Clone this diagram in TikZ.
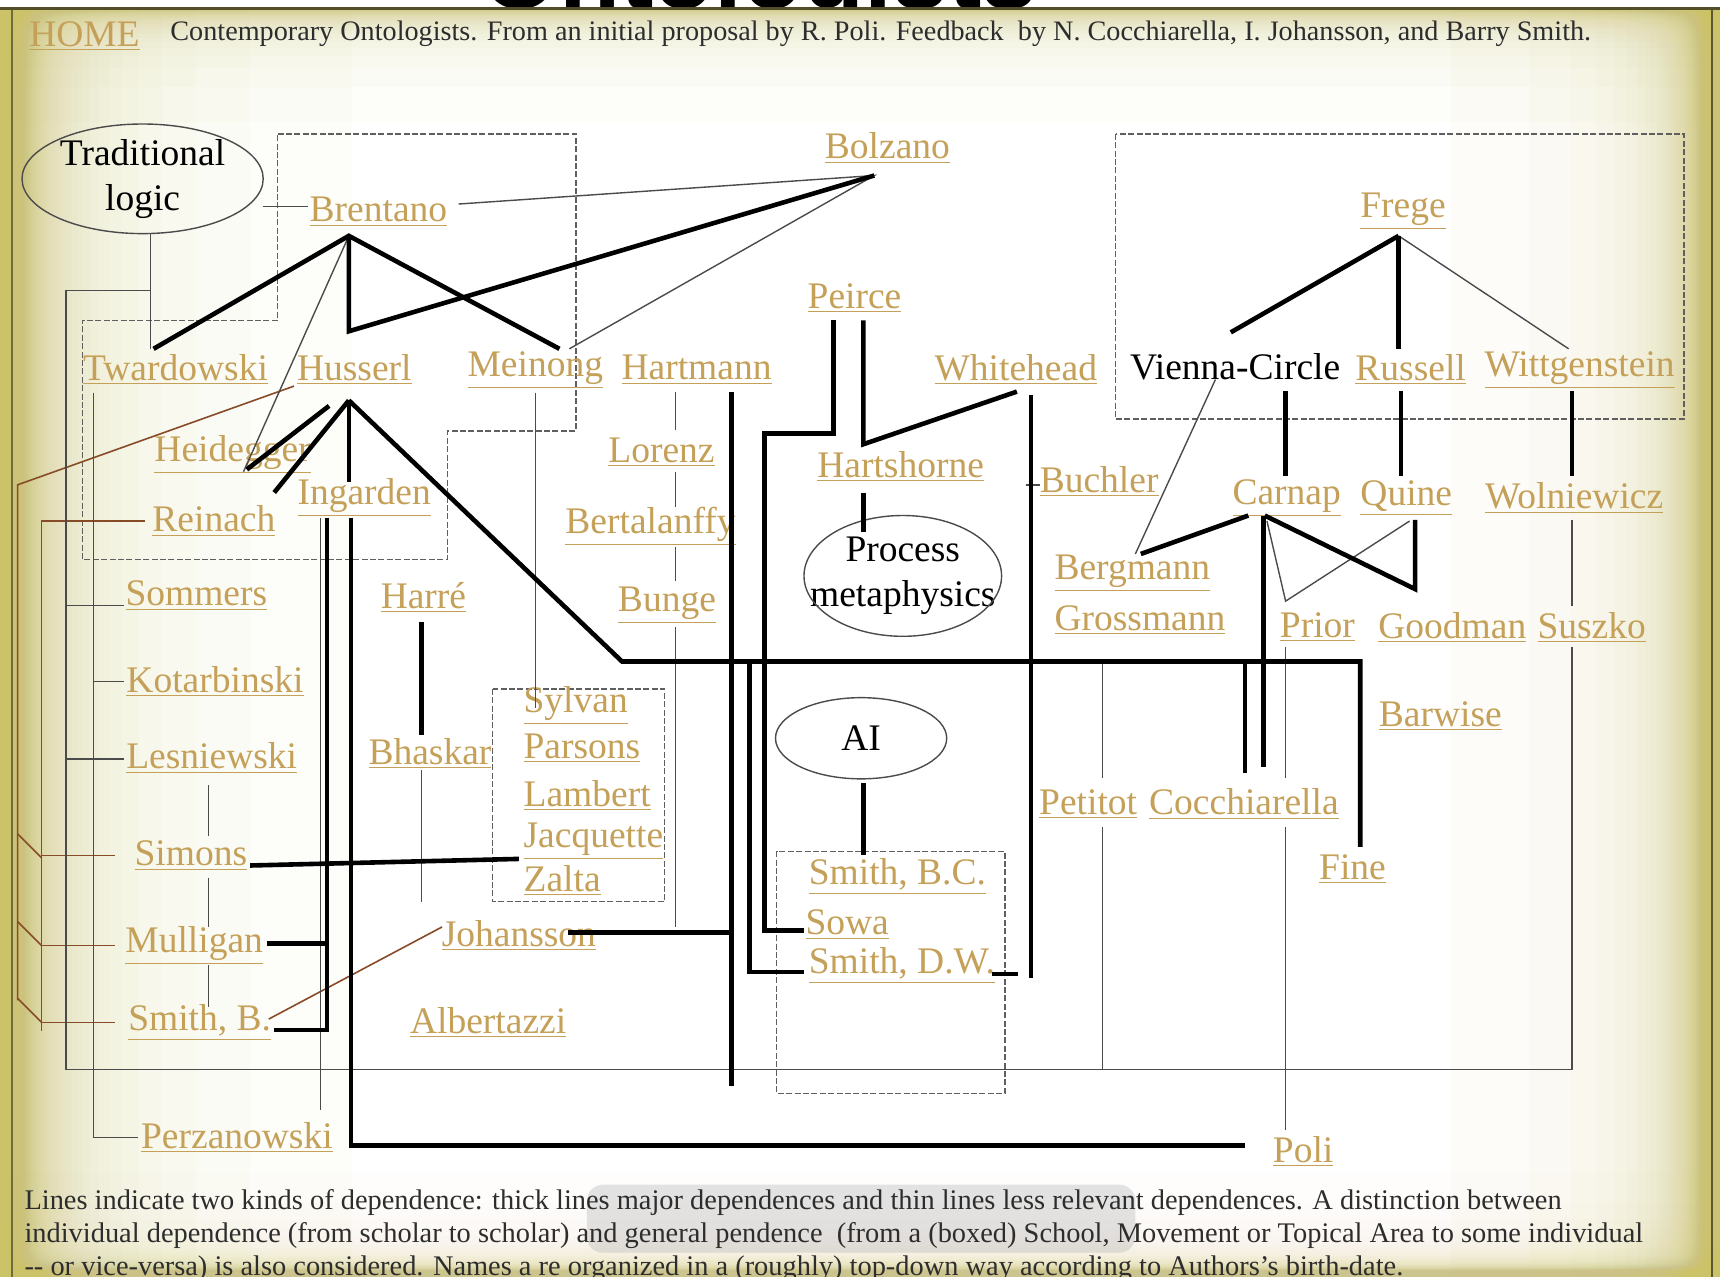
\documentclass[tikz,border=0pt]{standalone}
\usepackage{fontspec}
\setmainfont{Liberation Serif}
\newfontfamily\titlefont{Liberation Sans}

\definecolor{namec}{RGB}{196,160,88}
\definecolor{olivec}{RGB}{204,194,104}
\definecolor{thinc}{RGB}{75,75,75}
\definecolor{brownc}{RGB}{135,75,40}
\definecolor{boxc}{RGB}{95,95,95}
\definecolor{textc}{RGB}{45,45,45}
\newcommand{\nmfont}{\fontsize{18.75}{22.4}\selectfont}

\begin{document}
\begin{tikzpicture}[x=0.5485pt, y=-0.5485pt,
    nm/.style={text=namec, font=\nmfont, inner sep=0pt},
    blk/.style={text=black, font=\nmfont, inner sep=0pt, align=center},
    major/.style={black, line width=2.3pt},
    minor/.style={thinc, line width=0.7pt},
    brn/.style={brownc, line width=0.8pt},
    school/.style={boxc, line width=0.7pt, dash pattern=on 3pt off 1.2pt},
    area/.style={thinc, line width=0.7pt}
]
\useasboundingbox (0,0) rectangle (1568,1164);

\fill[white] (0,0) rectangle (1568,1164);
\foreach \k in {2,...,55} {
    \pgfmathsetmacro{\wl}{577/(\k^0.846)}
    \pgfmathsetmacro{\wr}{440/(\k^0.846)}
    \pgfmathsetmacro{\wt}{200/(\k^0.846)}
    \pgfmathsetmacro{\wb}{170/(\k^0.846)}
    \fill[olivec, opacity=0.03] (0,0) rectangle (\wl,1164);
    \fill[olivec, opacity=0.035] (1568-\wr,0) rectangle (1568,1164);
    \fill[olivec, opacity=0.03] (0,0) rectangle (1568,\wt);
    \fill[olivec, opacity=0.02] (0,1164-\wb) rectangle (1568,1164);
}
\fill[olivec] (0,0) rectangle (10,1164);
\draw[olivec!55!black, line width=0.6pt] (11,8) -- (11,1164);
\draw[olivec!45!black, line width=1pt] (1561,8) -- (1561,1164);
\fill[white] (0,0) rectangle (1568,7);
\begin{scope}
    \clip (0,0) rectangle (1568,7.5);
    \node[anchor=base, font=\titlefont\bfseries\fontsize{50}{52}\selectfont, inner sep=0pt] (title) at (692,8) {Ontologists};
\end{scope}
\draw[olivec!40!black, line width=1.5pt] (0,8) -- (1568,8);

\node[nm] (home) at (77,33) {\underline{HOME}};
\node[anchor=west, text=textc, font=\fontsize{14.1}{16}\selectfont, inner sep=0pt] (header) at (155,31) {Contemporary Ontologists. From an initial proposal by R. Poli. Feedback\ \ by N. Cocchiarella, I. Johansson, and Barry Smith.};

\fill[gray!60, opacity=0.35, rounded corners=8pt] (535,1080) rectangle (1035,1142);
\node[anchor=north west, align=left, text=textc, font=\fontsize{14.2}{16.4}\selectfont, inner sep=0pt] (legend) at (22,1084) {Lines indicate two kinds of dependence: thick lines major dependences and thin lines less relevant dependences. A distinction between\\individual dependence (from scholar to scholar) and general pendence\ \ (from a (boxed) School, Movement or Topical Area to some individual\\-{}- or vice-versa) is also considered. Names a re organized in a (roughly) top-down way according to Authors's birth-date.};

\draw[school] (253,122) -- (525,122) -- (525,393) -- (408,393) -- (408,510) -- (75,510) -- (75,292) -- (253,292) -- cycle;
\draw[school] (1017,122) rectangle (1535,382);
\draw[school] (449,628) rectangle (606,822);
\draw[school] (708,776) rectangle (916,997);

\node[blk] (tradlogic) at (130,163) {Traditional\\logic};
\draw[area] (tradlogic) ellipse [x radius=60.3pt, y radius=27.4pt];
\node[blk] (procmeta) at (823,525) {Process\\metaphysics};
\draw[area] (procmeta) ellipse [x radius=49.4pt, y radius=30.2pt];
\node[blk] (ai) at (785,673) {AI};
\draw[area] (ai) ellipse [x radius=42.8pt, y radius=20.3pt];

\node[nm] (bolzano) at (809,135) {\underline{Bolzano}};
\node[nm] (brentano) at (345,193) {\underline{Brentano}};
\node[nm] (frege) at (1279,193) {\underline{Frege}};
\node[nm] (peirce) at (779,272) {\underline{Peirce}};
\node[nm] (twardowski) at (160,337) {\underline{Twardowski}};
\node[nm] (husserl) at (323,337) {\underline{Husserl}};
\node[nm] (meinong) at (488,337) {\underline{Meinong}};
\node[nm] (hartmann) at (635,337) {\underline{Hartmann}};
\node[nm] (whitehead) at (926,337) {\underline{Whitehead}};
\node[blk] (vienna) at (1126,334) {Vienna-Circle};
\node[nm] (russell) at (1286,337) {\underline{Russell}};
\node[nm] (wittgenstein) at (1440,337) {\underline{Wittgenstein}};
\node[nm] (lorenz) at (603,412) {\underline{Lorenz}};
\node[nm] (heidegger) at (212,414) {\underline{Heidegger}};
\node[nm] (hartshorne) at (821,425) {\underline{Hartshorne}};
\node[nm] (buchler) at (1002,439) {\underline{Buchler}};
\node[nm] (ingarden) at (332,454) {\underline{Ingarden}};
\node[nm] (carnap) at (1173,454) {\underline{Carnap}};
\node[nm] (quine) at (1282,454) {\underline{Quine}};
\node[nm] (wolniewicz) at (1435,454) {\underline{Wolniewicz}};
\node[nm] (reinach) at (195,475) {\underline{Reinach}};
\node[nm] (bertalanffy) at (593,480) {\underline{Bertalanffy}};
\node[nm, anchor=west] (bergmann) at (961,523) {\underline{Bergmann}};
\node[nm, anchor=west] (grossmann) at (961,565) {\underline{Grossmann}};
\node[nm] (sommers) at (179,543) {\underline{Sommers}};
\node[nm] (harre) at (386,545) {\underline{Harré}};
\node[nm] (bunge) at (608,552) {\underline{Bunge}};
\node[nm] (prior) at (1201,572) {\underline{Prior}};
\node[nm] (goodman) at (1324,572) {\underline{Goodman}};
\node[nm] (suszko) at (1451,572) {\underline{Suszko}};
\node[nm] (kotarbinski) at (196,621) {\underline{Kotarbinski}};
\node[nm] (barwise) at (1313,653) {\underline{Barwise}};
\node[nm] (bhaskar) at (392,687) {\underline{Bhaskar}};
\node[nm] (lesniewski) at (193,691) {\underline{Lesniewski}};
\node[nm, anchor=west] (sylvan) at (477,643) {\underline{Sylvan}};
\node[nm, anchor=west] (parsons) at (477,682) {\underline{Parsons}};
\node[nm, anchor=west] (lambert) at (477,725) {\underline{Lambert}};
\node[nm, anchor=west] (jacquette) at (477,767) {\underline{Jacquette}};
\node[nm, anchor=west] (zalta) at (477,803) {\underline{Zalta}};
\node[nm] (petitot) at (992,733) {\underline{Petitot}};
\node[nm] (cocchiarella) at (1134,733) {\underline{Cocchiarella}};
\node[nm] (simons) at (174,780) {\underline{Simons}};
\node[nm] (fine) at (1233,792) {\underline{Fine}};
\node[nm, anchor=west] (smithbc) at (737,799) {\underline{Smith, B.C.}};
\node[nm, anchor=west] (sowa) at (734,843) {\underline{Sowa}};
\node[nm, anchor=west] (smithdw) at (737,880) {\underline{Smith, D.W.}};
\node[nm] (johansson) at (473,853) {\underline{Johansson}};
\node[nm] (mulligan) at (177,862) {\underline{Mulligan}};
\node[nm] (smithb) at (182,932) {\underline{Smith, B.}};
\node[nm] (albertazzi) at (445,932) {\underline{Albertazzi}};
\node[nm] (perzanowski) at (216,1037) {\underline{Perzanowski}};
\node[nm] (poli) at (1188,1050) {\underline{Poli}};

\coordinate (bre-a) at (318,215);
\coordinate (bol-a) at (797,160);
\coordinate (hus-t) at (318,302);
\coordinate (hus-a) at (318,365);
\coordinate (fre-a) at (1275,215);
\coordinate (car-a) at (1153,470);
\coordinate (bus-w) at (567,603);
\coordinate (bus-e) at (1240,603);

\draw[brn] (268,352) -- (16,442) -- (16,912);
\draw[brn] (16,760) -- (38,782) (16,840) -- (38,862) (16,910) -- (38,932);
\draw[brn] (132,475) -- (38,475) -- (38,940);
\draw[brn] (38,780) -- (105,780) (38,862) -- (105,862) (38,932) -- (105,932);
\draw[brn] (245,929) -- (403,845);

\draw[minor] (240,188) -- (281,188);
\draw[minor] (137,213) -- (137,318);
\draw[minor] (137,265) -- (60,265) -- (60,975) -- (1433,975) -- (1433,590);
\draw[minor] (60,552) -- (113,552) (60,692) -- (113,692);
\draw[minor] (85,358) -- (85,1037) -- (126,1037);
\draw[minor] (85,621) -- (113,621);
\draw[minor] (190,716) -- (190,762) (190,800) -- (190,845) (190,880) -- (190,918);
\draw[minor] (292,472) -- (292,1012);
\draw[minor] (384,702) -- (384,822);
\draw[minor] (488,358) -- (488,645);
\draw[minor] (616,357) -- (616,392) (616,430) -- (616,462) (616,499) -- (616,530) (616,572) -- (616,845);
\draw[minor] (1005,603) -- (1005,709) (1005,754) -- (1005,975);
\draw[minor] (1172,590) -- (1172,709) (1172,754) -- (1172,1030);
\draw[minor] (1433,474) -- (1433,552);
\draw[minor] (935,442) -- (948,442);
\draw[minor] (1108,346) -- (1035,505);
\draw[minor] (1155,475) -- (1172,548) -- (1285,475);
\draw[minor] (fre-a) -- (1430,318);
\draw[minor] (bre-a) -- (222,430);
\draw[minor] (418,186) -- (bol-a) -- (519,318);

\draw[major] (140,318) -- (bre-a) -- (510,318);
\draw[major] (bre-a) -- (hus-t) -- (bol-a);
\draw[major] (300,370) -- (225,428);
\draw[major] (hus-a) -- (250,449);
\draw[major] (hus-a) -- (318,439);
\draw[major] (hus-a) -- (bus-w) -- (bus-e) -- (1240,772);
\draw[major] (298,472) -- (298,939) -- (250,939);
\draw[major] (243,860) -- (298,860);
\draw[major] (320,472) -- (320,1044) -- (1135,1044);
\draw[major] (228,789) -- (473,783);
\draw[major] (384,567) -- (384,670);
\draw[major] (667,357) -- (667,990);
\draw[major] (518,850) -- (667,850);
\draw[major] (760,292) -- (760,395) -- (697,395) -- (697,848) -- (733,848);
\draw[major] (683,603) -- (683,886) -- (733,886);
\draw[major] (787,292) -- (787,405) -- (927,357);
\draw[major] (787,449) -- (787,485);
\draw[major] (940,360) -- (940,892);
\draw[major] (904,888) -- (928,888);
\draw[major] (787,714) -- (787,779);
\draw[major] (1135,603) -- (1135,705);
\draw[major] (1152,470) -- (1152,699);
\draw[major] (fre-a) -- (1122,303);
\draw[major] (fre-a) -- (1275,318);
\draw[major] (1172,356) -- (1172,434);
\draw[major] (1277,356) -- (1277,434);
\draw[major] (1433,356) -- (1433,434);
\draw[major] (1138,470) -- (1040,505);
\draw[major] (car-a) -- (1290,537) -- (1290,474);
\end{tikzpicture}
\end{document}
